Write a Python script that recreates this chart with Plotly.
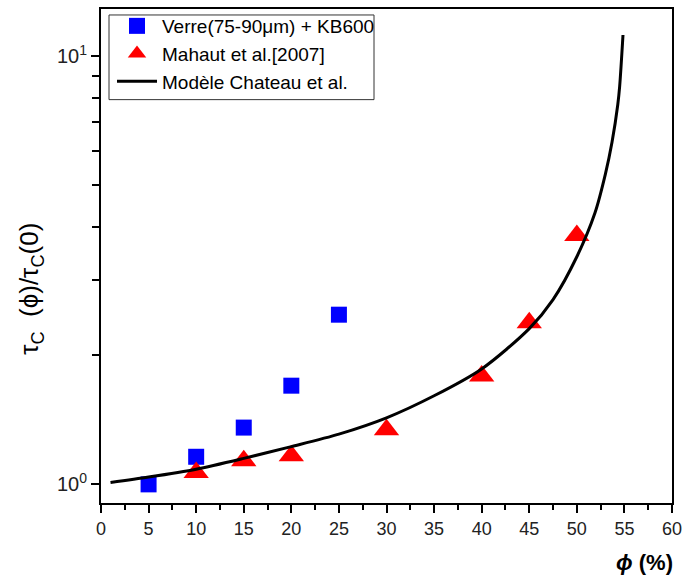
import plotly.graph_objects as go

# Data
verre_phi = [5, 10, 15, 20, 25]
verre_tau = [1.0, 1.16, 1.357, 1.70, 2.49]

mahaut_phi = [10, 15, 20, 30, 40, 45, 50]
mahaut_tau = [1.066, 1.136, 1.167, 1.341, 1.79, 2.386, 3.81]

model_phi = [1, 5, 10, 15, 20, 25, 30, 35, 40, 45, 47.5, 50, 51.9, 53, 53.7, 54.3, 54.5, 54.85]
model_tau = [1.01, 1.04, 1.085, 1.15, 1.225, 1.31, 1.43, 1.61, 1.86, 2.31, 2.70, 3.40, 4.3, 5.3, 6.3, 7.7, 8.5, 11.2]

x_ticks = list(range(0, 61, 5))
y_major = [1, 10]
y_major_text = ["10<sup>0</sup>", "10<sup>1</sup>"]
y_minor = [2, 3, 4, 5, 6, 7, 8, 9]

FONT = "Liberation Sans, Arial, sans-serif"

fig = go.Figure()
fig.add_trace(go.Scatter(
    x=verre_phi, y=verre_tau, mode="markers", name="Verre(75-90μm) + KB600",
    marker=dict(symbol="square", size=16, color="#0000ff", line=dict(width=0)),
))
fig.add_trace(go.Scatter(
    x=mahaut_phi, y=mahaut_tau, mode="markers", name="Mahaut et al.[2007]",
    marker=dict(symbol="triangle-up", size=22, color="#ff0000", line=dict(width=0)),
))
fig.add_trace(go.Scatter(
    x=model_phi, y=model_tau, mode="lines", name="Modèle Chateau et al.",
    line=dict(color="black", width=3, shape="spline", smoothing=0.8),
))

L, R, T, B = 101, 11, 7, 78
W, H = 683, 581
pw, ph = W - L - R, H - T - B

fig.update_layout(
    width=W, height=H, autosize=False,
    margin=dict(l=L, r=R, t=T, b=B),
    paper_bgcolor="white", plot_bgcolor="white",
    font=dict(family=FONT, color="black", size=18),
    showlegend=True,
    legend=dict(
        x=(112 - L) / pw, y=(H - B - 5) / ph, xanchor="left", yanchor="top",
        bgcolor="rgba(0,0,0,0)", borderwidth=0,
        font=dict(family=FONT, size=19, color="black"),
        itemwidth=40, tracegroupgap=0,
    ),
    shapes=[dict(
        type="rect", xref="paper", yref="paper",
        x0=(109 - L) / pw, x1=(374 - L) / pw,
        y0=(H - B - 98) / ph, y1=(H - B - 13) / ph,
        line=dict(color="#333333", width=1),
    )],
    annotations=[
        dict(text="<b><i>ϕ</i> (%)</b>", xref="paper", yref="paper",
             x=(644 - L) / pw, y=(H - B - 563) / ph, showarrow=False,
             font=dict(family=FONT, size=22, color="black"),
             xanchor="center", yanchor="middle"),
        dict(text="τ<sub>C</sub>  (ϕ)/τ<sub>C</sub>(0)", xref="paper", yref="paper",
             x=(31 - L) / pw, y=(H - B - 288) / ph, showarrow=False, textangle=-90,
             font=dict(family=FONT, size=26, color="black"),
             xanchor="center", yanchor="middle"),
    ],
)

fig.update_xaxes(
    range=[0, 60], tickmode="array", tickvals=x_ticks,
    ticks="outside", ticklen=8, tickwidth=2, tickcolor="black",
    minor=dict(ticks="outside", ticklen=5, tickwidth=1.5, tickcolor="black", dtick=2.5, tick0=0),
    showline=True, linewidth=2, linecolor="black", mirror=True,
    showgrid=False, zeroline=False, ticklabeloverflow="allow", automargin=False,
    tickfont=dict(family=FONT, size=18, color="#222222"),
)
fig.update_yaxes(
    type="log", range=[-0.0435, 1.110], tickmode="array",
    tickvals=y_major, ticktext=y_major_text,
    ticks="outside", ticklen=8, tickwidth=2, tickcolor="black",
    minor=dict(ticks="outside", ticklen=7, tickwidth=1.5, tickcolor="black", tickvals=y_minor),
    showline=True, linewidth=2, linecolor="black", mirror=True,
    showgrid=False, zeroline=False, automargin=False,
    tickfont=dict(family=FONT, size=20, color="#222222"),
)

fig.write_html(
    "out.html",
    config={"displayModeBar": False, "responsive": False},
    post_script="document.body.style.margin='0';document.body.style.overflow='hidden';",
)
